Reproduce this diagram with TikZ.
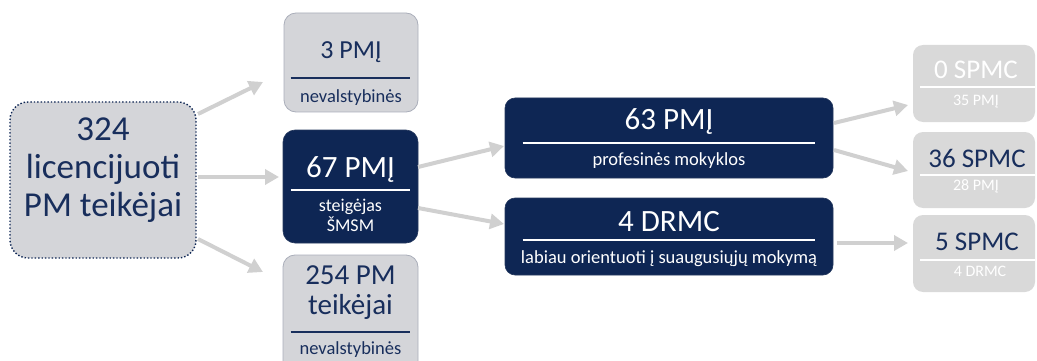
\documentclass[tikz,border=0pt]{standalone}
\usepackage{fontspec}
\setmainfont{Carlito}
\usetikzlibrary{arrows.meta,calc}
\definecolor{navy}{RGB}{14,38,84}
\definecolor{navytext}{RGB}{24,46,92}
\definecolor{boxgray}{RGB}{212,213,217}
\definecolor{rgray}{RGB}{217,217,217}
\definecolor{bordergray}{RGB}{170,174,186}
\definecolor{arrgray}{RGB}{208,208,208}
\tikzset{
  graybox/.style={draw=bordergray, line width=0.8pt, fill=boxgray, rounded corners=12pt, inner sep=0pt},
  navybox/.style={draw=navy!80!gray, line width=0.6pt, fill=navy, rounded corners=12pt, inner sep=0pt},
  rbox/.style={draw=none, fill=rgray, rounded corners=10pt, inner sep=0pt},
  arr/.style={line width=4pt, draw=arrgray, -{Triangle[length=14pt,width=15pt]}},
  big/.style={font=\fontsize{31}{34}\selectfont, inner sep=0pt},
  small/.style={font=\fontsize{18.5}{20}\selectfont, inner sep=0pt},
  rbig/.style={font=\fontsize{27}{30}\selectfont, inner sep=0pt},
  rsmall/.style={text=white, font=\fontsize{16}{18}\selectfont, inner sep=0pt},
  sep/.style={line width=2pt}
}
\begin{document}
\begin{tikzpicture}[x=1pt,y=-1pt]
\useasboundingbox (0,0) rectangle (1037,361);
\clip (0,0) rectangle (1037,361);
% left box
\node[fill=boxgray, draw=navy, dotted, line width=1.4pt, rounded corners=18pt, minimum width=186pt, minimum height=156pt] (L) at (103,180) {};
\node[align=center, text=navytext, font=\fontsize{35}{38}\selectfont, inner sep=0pt] (Lt) at (103,170) {324\\licencijuoti\\PM teikėjai};
% 3 PMJ
\node[graybox, minimum width=134pt, minimum height=99pt] (B1) at (351,62.5) {};
\node[text=navytext, font=\fontsize{26}{28}\selectfont, inner sep=0pt] (B1a) at (351,52) {3 PMĮ};
\draw[navytext, sep] ($(B1.west)+(7,15.5)$) -- ($(B1.east)+(-8,15.5)$);
\node[text=navytext, small] (B1b) at (351,98) {nevalstybinės};
% 67 PMJ
\node[navybox, minimum width=135pt, minimum height=113pt] (B2) at (350.5,186.5) {};
\node[text=white, big] (B2a) at (350.5,170) {67 PMĮ};
\draw[white, sep] ($(B2.west)+(8,3.5)$) -- ($(B2.east)+(-8,3.5)$);
\node[text=white, small, align=center, font=\fontsize{18}{20}\selectfont] (B2b) at (350.5,215) {steigėjas\\ŠMSM};
% 254 PM
\node[graybox, minimum width=135pt, minimum height=120pt] (B3) at (350.5,315) {};
\node[text=navytext, align=center, font=\fontsize{29}{30}\selectfont, inner sep=0pt] (B3a) at (350.5,293) {254 PM\\teikėjai};
\draw[navytext, sep] ($(B3.west)+(8,17)$) -- ($(B3.east)+(-8,17)$);
\node[text=navytext, small] (B3b) at (350.5,350) {nevalstybinės};
% 63 PMJ
\node[navybox, rounded corners=10pt, minimum width=328pt, minimum height=80pt] (C1) at (669,138) {};
\node[text=white, big] (C1a) at (669,122) {63 PMĮ};
\draw[white, sep] ($(C1.west)+(18,5)$) -- ($(C1.east)+(-18,5)$);
\node[text=white, small] (C1b) at (669,161) {profesinės mokyklos};
% 4 DRMC
\node[navybox, rounded corners=10pt, minimum width=328pt, minimum height=77pt] (C2) at (669,236.5) {};
\node[text=white, big] (C2a) at (669,222) {4 DRMC};
\draw[white, sep] ($(C2.west)+(18,3.5)$) -- ($(C2.east)+(-18,3.5)$);
\node[text=white, small] (C2b) at (669,259) {labiau orientuoti į suaugusiųjų mokymą};
% right boxes
\node[rbox, minimum width=122pt, minimum height=77pt] (D1) at (974,83.5) {};
\node[text=white, rbig] (D1a) at (976,70) {0 SPMC};
\draw[white, sep] ($(D1.west)+(7,3.5)$) -- ($(D1.east)+(0,3.5)$);
\node[rsmall] (D1b) at (976,102) {35 PMĮ};
\node[rbox, minimum width=122pt, minimum height=76pt] (D2) at (974,170) {};
\node[text=navytext, rbig] (D2a) at (977,158) {36 SPMC};
\draw[white, sep] ($(D2.west)+(7,5)$) -- ($(D2.east)+(0,5)$);
\node[rsmall] (D2b) at (976,186) {28 PMĮ};
\node[rbox, minimum width=122pt, minimum height=77pt] (D3) at (974,253.5) {};
\node[text=navytext, rbig] (D3a) at (977,242) {5 SPMC};
\draw[white, sep] ($(D3.west)+(7,6.5)$) -- ($(D3.east)+(0,6.5)$);
\node[rsmall] (D3b) at (980,271) {4 DRMC};
% arrow endpoints
\coordinate (a1s) at (198,114);
\coordinate (a1e) at (263,82);
\coordinate (a2s) at (198,177);
\coordinate (a2e) at (279,177);
\coordinate (a3s) at (198,239);
\coordinate (a3e) at (263,272);
\coordinate (a4s) at (418,167);
\coordinate (a4e) at (504,146);
\coordinate (a5s) at (418,208);
\coordinate (a5e) at (504,224);
\coordinate (a6s) at (834,123);
\coordinate (a6e) at (908,105);
\coordinate (a7s) at (834,150);
\coordinate (a7e) at (908,171);
\coordinate (a8s) at (837,243);
\coordinate (a8e) at (908,243);
\foreach \i in {1,...,8} {\draw[arr] (a\i s) -- (a\i e);}
\end{tikzpicture}
\end{document}
